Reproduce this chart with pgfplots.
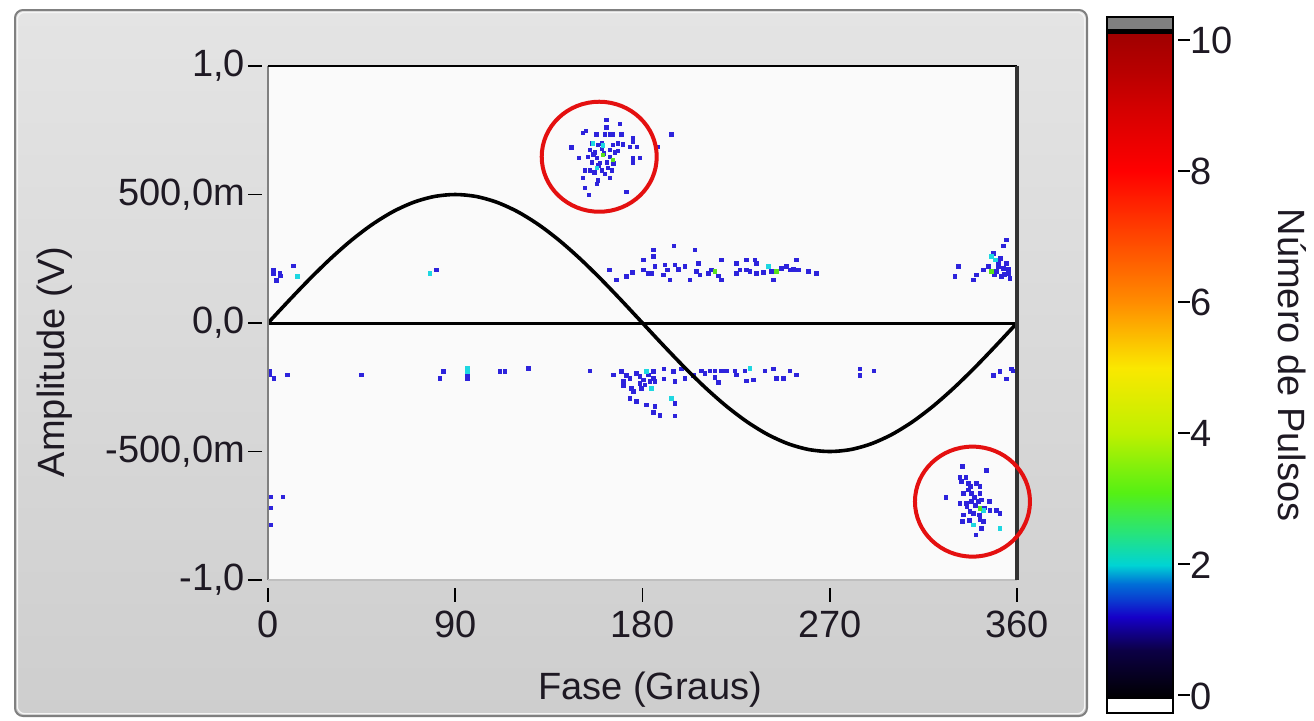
\documentclass[border=0pt]{standalone}
\usepackage{pgfplots}
\pgfplotsset{compat=1.18}
\usepackage{fontspec}
\setmainfont{Liberation Sans}
\definecolor{ptblue}{RGB}{45,35,220}
\definecolor{ptcyan}{RGB}{30,215,225}
\definecolor{ptgreen}{RGB}{90,225,30}
\definecolor{txt}{RGB}{30,25,35}
\definecolor{panelA}{RGB}{228,228,228}
\definecolor{panelB}{RGB}{206,206,206}
\definecolor{plotbg}{RGB}{250,250,250}
\definecolor{circred}{RGB}{228,16,16}
\begin{document}
\begin{tikzpicture}[font=\fontsize{19}{22}\selectfont]
\useasboundingbox (0pt,0pt) rectangle (657pt,-360pt);
% panel
\shade[rounded corners=4pt, top color=panelA, bottom color=panelB] (7.5pt,-5pt) rectangle (543.5pt,-358pt);
\draw[rounded corners=4pt, line width=1pt, color=gray] (7.5pt,-5pt) rectangle (543.5pt,-358pt);
\draw[rounded corners=3.5pt, line width=0.6pt, color=white!92!gray] (8.7pt,-6.2pt) rectangle (542.3pt,-356.8pt);

\begin{axis}[
  at={(134pt,-290pt)}, anchor=south west,
  scale only axis, width=374.5pt, height=257pt,
  xmin=0, xmax=360, ymin=-1, ymax=1,
  axis line style={draw=none},
  axis background/.style={fill=plotbg},
  xtick={0,90,180,270,360}, xticklabels={0,90,180,270,360},
  ytick={-1,-0.5,0,0.5,1},
  yticklabels={{-1,0},{-500,0m},{0,0},{500,0m},{1,0}},
  major tick length=0pt,
  xtick pos=bottom, ytick pos=left,
  xticklabel style={yshift=-12pt, text=txt},
  yticklabel style={xshift=-8pt, text=txt},
  clip mode=individual,
]
% pulses, count 1
\addplot[only marks, color=ptblue, mark=square*, mark size=0.95pt, mark options={draw=ptblue, fill=ptblue, line width=0pt}] coordinates {
(162.8,0.790)(162.8,0.761)(169.2,0.774)(151.4,0.739)(152.8,0.747)(158.0,0.735)(162.0,0.735)(164.4,0.732)(165.8,0.735)(170.0,0.735)(175.4,0.720)(175.4,0.704)(194.0,0.735)(146.0,0.682)(158.6,0.693)(160.5,0.700)(165.8,0.693)(168.2,0.700)(170.6,0.696)(174.0,0.685)(177.4,0.685)(187.4,0.685)(154.8,0.673)(157.2,0.665)(160.5,0.677)(164.4,0.673)(166.8,0.665)(168.2,0.669)(149.5,0.642)(153.8,0.646)(158.1,0.642)(164.4,0.646)(175.4,0.642)(175.4,0.626)(178.8,0.642)(155.7,0.626)(159.6,0.623)(162.9,0.626)(152.4,0.595)(154.8,0.595)(160.5,0.595)(163.4,0.603)(165.3,0.595)(151.4,0.564)(158.6,0.553)(158.1,0.541)(164.4,0.564)(152.4,0.525)(172.5,0.510)(154.3,0.498)
(156.5,0.655)(161.5,0.660)(159.0,0.612)(157.0,0.585)(162.0,0.580)(156.0,0.700)(166.0,0.620)
(333.9,-0.559)(345.4,-0.575)(332.6,-0.600)(335.5,-0.600)(333.4,-0.618)(336.6,-0.624)(337.7,-0.637)(340.6,-0.624)(342.2,-0.637)(334.2,-0.663)(338.2,-0.663)(342.2,-0.663)(325.9,-0.678)(332.6,-0.702)(335.8,-0.702)(338.2,-0.695)(341.4,-0.695)(343.0,-0.689)(346.7,-0.693)(347.0,-0.728)(350.2,-0.730)(351.8,-0.740)(337.4,-0.734)(339.0,-0.740)(334.2,-0.747)(341.9,-0.747)(333.9,-0.773)(337.1,-0.769)(342.2,-0.764)(343.8,-0.773)(343.0,-0.799)(340.3,-0.825)
(336.0,-0.715)(340.0,-0.710)(339.5,-0.680)(344.5,-0.720)(336.5,-0.650)
(164.0,0.206)(167.6,0.167)(172.4,0.180)(175.3,0.196)(180.4,0.245)(180.4,0.206)(182.8,0.193)(185.2,0.284)(185.2,0.258)(186.0,0.219)(184.4,0.193)(190.8,0.226)(191.9,0.206)(190.0,0.187)(193.2,0.167)(195.1,0.300)(195.6,0.226)(197.2,0.209)(200.4,0.219)(202.8,0.167)(205.2,0.284)(206.8,0.232)(206.0,0.200)(207.6,0.187)(211.6,0.193)(213.3,0.206)(216.4,0.183)(218.1,0.245)(218.1,0.167)(225.3,0.232)(225.3,0.193)(226.9,0.206)(230.1,0.245)(230.1,0.206)(231.7,0.200)(234.1,0.245)(234.9,0.232)(234.9,0.193)(238.1,0.196)(242.1,0.200)(242.9,0.167)(246.9,0.213)(249.3,0.219)(250.9,0.206)(252.5,0.209)(254.1,0.245)(254.9,0.206)(259.7,0.200)(263.7,0.193)
(331.8,0.219)(330.2,0.180)(339.0,0.167)(340.6,0.187)(343.8,0.206)(346.2,0.219)(348.6,0.271)(351.0,0.232)(350.2,0.200)(353.4,0.213)(355.0,0.232)(353.4,0.300)(355.0,0.323)(355.8,0.193)(352.6,0.180)(356.6,0.174)(349.0,0.190)(351.0,0.220)(354.0,0.190)(356.0,0.210)(352.0,0.250)
(2.5,0.204)(2.5,0.193)(5.8,0.193)(6.1,0.183)(4.2,0.164)(12.2,0.222)(81.1,0.206)
(154.8,-0.187)(166.0,-0.202)(170.0,-0.189)(172.4,-0.205)(170.8,-0.228)(170.8,-0.244)(174.0,-0.215)(174.8,-0.254)(175.6,-0.267)(177.2,-0.196)(178.8,-0.209)(178.8,-0.235)(179.6,-0.254)(180.4,-0.222)(181.2,-0.241)(182.8,-0.202)(183.6,-0.228)(185.2,-0.215)(185.2,-0.189)(186.0,-0.228)
(174.0,-0.293)(177.2,-0.306)(182.0,-0.319)(186.0,-0.326)(185.2,-0.347)(188.4,-0.361)(195.6,-0.312)(195.6,-0.362)
(190.3,-0.179)(190.3,-0.218)(194.8,-0.189)(195.6,-0.228)(198.8,-0.179)(200.4,-0.215)(204.4,-0.205)(208.5,-0.187)(210.0,-0.196)(212.4,-0.187)(214.8,-0.187)(214.8,-0.213)(216.4,-0.231)(218.1,-0.187)(220.5,-0.187)(224.5,-0.187)(225.3,-0.202)(229.3,-0.187)(230.1,-0.226)(233.3,-0.222)(238.9,-0.187)(242.9,-0.179)(244.5,-0.215)(247.7,-0.215)(250.9,-0.187)(254.1,-0.202)
(284.5,-0.179)(284.5,-0.205)(291.3,-0.187)
(348.6,-0.205)(355.0,-0.218)(351.8,-0.189)(357.5,-0.179)(358.2,-0.187)
(1.0,-0.189)(1.0,-0.202)(2.9,-0.215)(9.3,-0.202)(45.0,-0.202)(82.7,-0.215)(84.3,-0.189)(95.8,-0.202)(95.8,-0.215)(111.5,-0.189)(113.9,-0.189)(125.1,-0.176)
(1.4,-0.677)(7.2,-0.677)(1.4,-0.786)(1.4,-0.720)
};
% count 2
\addplot[only marks, color=ptcyan, mark=square*, mark size=0.95pt, mark options={draw=ptcyan, fill=ptcyan, line width=0pt}] coordinates {
(156.2,0.700)(158.1,0.603)(161.0,0.690)
(343.8,-0.730)(339.0,-0.786)(351.8,-0.799)
(240.5,0.219)(347.8,0.258)(349.5,0.245)(14.1,0.180)(77.9,0.193)
(182.0,-0.189)(184.4,-0.254)(194.0,-0.293)(231.7,-0.176)(95.8,-0.176)(95.8,-0.189)
};
% count 3
\addplot[only marks, color=ptgreen, mark=square*, mark size=0.95pt, mark options={draw=ptgreen, fill=ptgreen, line width=0pt}] coordinates {
(161.0,0.654)(165.8,0.634)(342.2,-0.721)(214.8,0.200)(244.5,0.200)(347.8,0.200)
};
% zero line and reference sine
\addplot[black, line width=1.5pt] coordinates {(0,0) (360,0)};
\addplot[black, line width=1.8pt, smooth] coordinates {
(0,0)(10,0.0868)(20,0.1710)(30,0.25)(40,0.3214)(50,0.3830)(60,0.4330)(70,0.4698)(80,0.4924)(90,0.5)
(100,0.4924)(110,0.4698)(120,0.4330)(130,0.3830)(140,0.3214)(150,0.25)(160,0.1710)(170,0.0868)(180,0)
(190,-0.0868)(200,-0.1710)(210,-0.25)(220,-0.3214)(230,-0.3830)(240,-0.4330)(250,-0.4698)(260,-0.4924)(270,-0.5)
(280,-0.4924)(290,-0.4698)(300,-0.4330)(310,-0.3830)(320,-0.3214)(330,-0.25)(340,-0.1710)(350,-0.0868)(360,0)
};
% frame
\draw[color=gray, line width=1pt] (rel axis cs:0,0) -- (rel axis cs:0,1);
\draw[color=black!25, line width=0.6pt] (rel axis cs:0,0) -- (rel axis cs:1,0);
\draw[color=black, line width=1.3pt] (rel axis cs:0,1) -- (rel axis cs:1,1);
\draw[color=black!80, line width=1.6pt] (rel axis cs:1,0) -- (rel axis cs:1,1);
% highlight circles
\draw[circred, line width=2pt] (axis cs:159.2,0.647) ellipse [x radius=28.75pt, y radius=27.5pt];
\draw[circred, line width=2pt] (axis cs:338.6,-0.695) ellipse [x radius=28.75pt, y radius=27.5pt];
\end{axis}

% tick marks of the main axis
\foreach \xx in {134,227.625,321.25,414.875,508.5} \draw[black, line width=0.9pt] (\xx pt,-294pt) -- (\xx pt,-301pt);
\foreach \yy in {-33,-97.25,-161.5,-225.75,-290} \draw[black, line width=0.9pt] (124pt,\yy pt) -- (131pt,\yy pt);

% axis titles
\node[rotate=90, text=txt] at (27.5pt,-181pt) {Amplitude (V)};
\node[text=txt] at (325pt,-345pt) {Fase (Graus)};

% colour scale
\begin{axis}[
  at={(553.5pt,-356.5pt)}, anchor=south west,
  scale only axis, width=33pt, height=348pt,
  xmin=0, xmax=1, ymin=-0.26, ymax=10.35,
  axis line style={draw=none},
  xtick=\empty,
  ytick={0,2,4,6,8,10}, yticklabels={0,2,4,6,8,10},
  major tick length=0pt,
  ytick pos=right, yticklabel pos=right,
  yticklabel style={xshift=5pt, text=txt},
  point meta min=0, point meta max=10,
  colormap={lv}{rgb255(0cm)=(0,0,0); rgb255(0.7cm)=(12,0,70); rgb255(1.2cm)=(22,0,200); rgb255(1.7cm)=(0,110,215); rgb255(2cm)=(0,212,212); rgb255(2.5cm)=(40,228,120); rgb255(3.1cm)=(85,240,20); rgb255(4cm)=(190,240,0); rgb255(5cm)=(250,232,0); rgb255(6cm)=(255,140,0); rgb255(7cm)=(255,70,0); rgb255(8cm)=(255,0,0); rgb255(9cm)=(210,0,0); rgb255(10cm)=(160,0,0)},
  clip mode=individual,
]
\addplot[surf, shader=interp, mesh/cols=2, point meta=y] coordinates {
(0,-0.05)(1,-0.05)
(0,0.5)(1,0.5)
(0,0.7)(1,0.7)
(0,1)(1,1)
(0,1.2)(1,1.2)
(0,1.5)(1,1.5)
(0,1.7)(1,1.7)
(0,2)(1,2)
(0,2.5)(1,2.5)
(0,3.1)(1,3.1)
(0,3.5)(1,3.5)
(0,4)(1,4)
(0,4.5)(1,4.5)
(0,5)(1,5)
(0,5.5)(1,5.5)
(0,6)(1,6)
(0,6.5)(1,6.5)
(0,7)(1,7)
(0,7.5)(1,7.5)
(0,8)(1,8)
(0,8.5)(1,8.5)
(0,9)(1,9)
(0,9.5)(1,9.5)
(0,10.09)(1,10.09)
};
\fill[white] (axis cs:0,-0.26) rectangle (axis cs:1,-0.05);
\fill[black] (axis cs:0,10.09) rectangle (axis cs:1,10.16);
\fill[gray] (axis cs:0,10.16) rectangle (axis cs:1,10.35);
\draw[black, line width=1.2pt] (rel axis cs:0,0) rectangle (rel axis cs:1,1);
\end{axis}
\foreach \yy in {-20,-85.5,-151,-216.5,-282,-347.5} \draw[black, line width=0.9pt] (589pt,\yy pt) -- (595pt,\yy pt);
\node[rotate=-90, text=txt] at (646pt,-182.5pt) {Número de Pulsos};
\end{tikzpicture}
\end{document}
